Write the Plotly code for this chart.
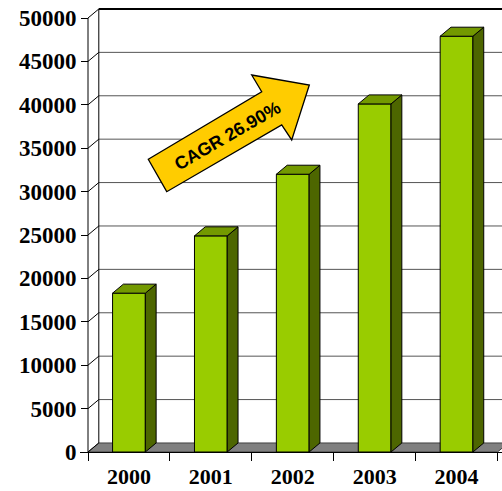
import plotly.graph_objects as go

# ---- data ----
years = ["2000", "2001", "2002", "2003", "2004"]
revenue = [18300, 24900, 32000, 40100, 47900]
y_ticks = [0, 5000, 10000, 15000, 20000, 25000, 30000, 35000, 40000, 45000, 50000]
y_tick_labels = [str(v) for v in y_ticks]
cagr_label = "CAGR 26.90%"

# ---- styling / 3-D geometry (data units) ----
FRONT = "#99CC00"
TOP = "#739900"
SIDE = "#4D6600"
FLOOR = "#808080"
GRID = "#555555"
BAR_HALF = 0.2          # half width of a column face
DX = 0.132              # depth offset along x (category units)
DY = 1040               # depth offset along y (value units)

PX_PER_CAT = 81.9
PX_PER_VAL = 434.0 / 50000
L_MARGIN, PLOT_W, PLOT_H = 80, 422, 452
X_LEFT = -0.5
XMIN = X_LEFT - 8 / PX_PER_CAT
XMAX = XMIN + PLOT_W / PX_PER_CAT
YMAX = PLOT_H / PX_PER_VAL
YTOP = y_ticks[-1]

x_pos = list(range(len(years)))

fig = go.Figure()

# front faces of the columns
fig.add_trace(go.Bar(
    x=x_pos, y=revenue, width=2 * BAR_HALF,
    marker=dict(color=FRONT, line=dict(color="black", width=1)),
    customdata=years,
    hovertemplate="%{customdata}: %{y}<extra></extra>",
))

# side and top faces give the columns depth
for xi, v in zip(x_pos, revenue):
    xl, xr = xi - BAR_HALF, xi + BAR_HALF
    fig.add_trace(go.Scatter(
        x=[xr, xr + DX, xr + DX, xr, xr],
        y=[0, DY, v + DY, v, 0],
        fill="toself", fillcolor=SIDE, mode="lines",
        line=dict(color="black", width=1), hoverinfo="skip",
    ))
    fig.add_trace(go.Scatter(
        x=[xl, xr, xr + DX, xl + DX, xl],
        y=[v, v, v + DY, v + DY, v],
        fill="toself", fillcolor=TOP, mode="lines",
        line=dict(color="black", width=1), hoverinfo="skip",
    ))

shapes = []
# back wall gridlines
for v in y_ticks[1:]:
    top = v == YTOP
    shapes.append(dict(
        type="line", layer="below", xref="x", yref="y",
        x0=X_LEFT + DX, x1=XMAX + 1, y0=v + DY, y1=v + DY,
        line=dict(color="black" if top else GRID, width=2 if top else 1),
    ))
# floor
n = len(years)
shapes.append(dict(
    type="path", layer="below", xref="x", yref="y",
    path=(f"M {X_LEFT},0 L {X_LEFT + n},0 L {X_LEFT + n + DX},{DY} "
          f"L {X_LEFT + DX},{DY} Z"),
    fillcolor=FLOOR, line=dict(color="#404040", width=1),
))
# left side wall: edges and tick connectors
for v in y_ticks:
    shapes.append(dict(
        type="line", layer="below", xref="x", yref="y",
        x0=X_LEFT, x1=X_LEFT + DX, y0=v, y1=v + DY,
        line=dict(color="black", width=1),
    ))
shapes.append(dict(type="line", layer="below", xref="x", yref="y",
                   x0=X_LEFT + DX, x1=X_LEFT + DX, y0=DY, y1=YTOP + DY,
                   line=dict(color="black", width=1)))
shapes.append(dict(type="line", layer="below", xref="x", yref="y",
                   x0=X_LEFT, x1=X_LEFT, y0=0, y1=YTOP,
                   line=dict(color="black", width=1)))


# growth arrow (pixel outline mapped to paper space)
def to_paper(px, py):
    return (px - L_MARGIN) / PLOT_W, (PLOT_H - py) / PLOT_H


arrow_px = [(148.3, 159.3), (261.7, 91.7), (251.7, 75.0), (309.3, 85.0),
            (291.7, 140.0), (281.7, 125.0), (166.7, 191.7)]
pts = [to_paper(*p) for p in arrow_px]
path = "M " + " L ".join(f"{a:.4f},{b:.4f}" for a, b in pts) + " Z"
shapes.append(dict(type="path", xref="paper", yref="paper", path=path,
                   fillcolor="#FFCC00", line=dict(color="black", width=1.3),
                   layer="above"))

tx, ty = to_paper(227, 136)
fig.add_annotation(
    x=tx, y=ty, xref="paper", yref="paper", text=cagr_label,
    xanchor="center", yanchor="middle",
    showarrow=False, textangle=-30,
    font=dict(family="Liberation Sans", size=18, color="black", weight="bold"),
)

serif_y = dict(family="Liberation Serif", size=23, color="black", weight="bold")
serif_x = dict(family="Liberation Serif", size=22, color="black", weight="bold")

fig.update_layout(
    width=502, height=491,
    margin=dict(l=L_MARGIN, r=0, t=0, b=491 - PLOT_H),
    paper_bgcolor="white", plot_bgcolor="white",
    showlegend=False, shapes=shapes,
    xaxis=dict(
        range=[XMIN, XMAX], tickmode="array", tickvals=x_pos, ticktext=years,
        ticks="outside", ticklen=5, tickcolor="rgba(0,0,0,0)",
        minor=dict(tickmode="array", tickvals=[X_LEFT + i for i in range(n + 1)],
                   ticks="outside", ticklen=8, tickcolor="black", tickwidth=1,
                   showgrid=False),
        showline=True, linecolor="black", linewidth=1,
        showgrid=False, zeroline=False, tickfont=serif_x, automargin=False,
    ),
    yaxis=dict(
        range=[0, YMAX], anchor="free", position=(X_LEFT - XMIN) * PX_PER_CAT / PLOT_W,
        tickmode="array", tickvals=y_ticks, ticktext=y_tick_labels,
        ticks="outside", ticklen=7, tickcolor="black", tickwidth=1,
        showline=False, showgrid=False, zeroline=False,
        tickfont=serif_y, automargin=False,
    ),
)

fig.write_html("out.html")
